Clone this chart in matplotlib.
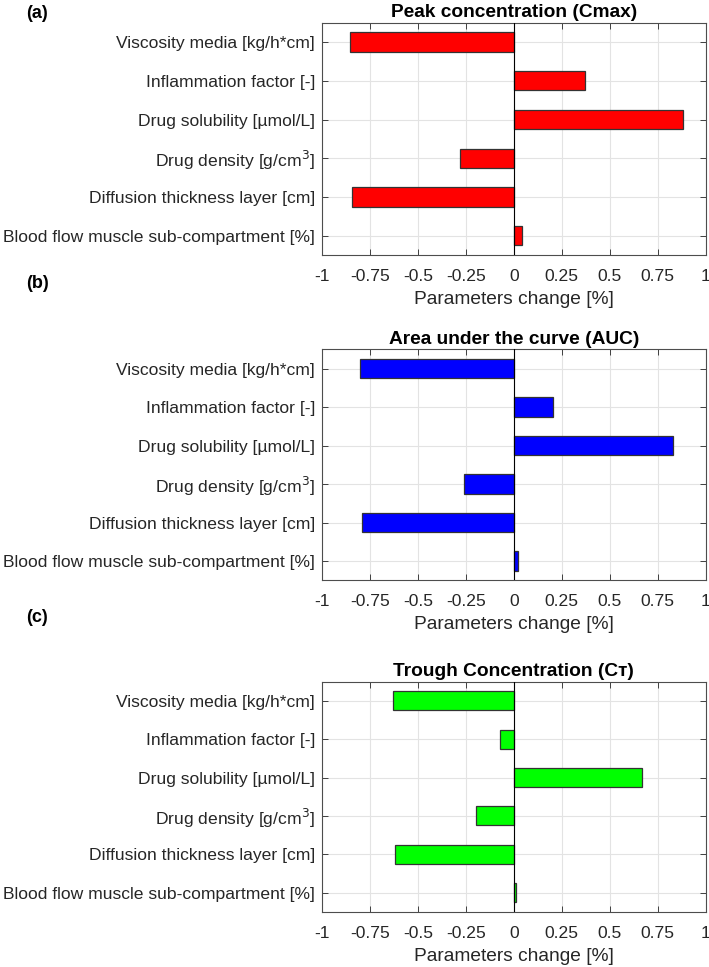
import matplotlib
matplotlib.use('Agg')
import matplotlib.pyplot as plt

plt.rcParams['font.family'] = ['Liberation Sans', 'DejaVu Sans']

# parameters, top to bottom as drawn
params = ['Viscosity media [kg/h*cm]',
          'Inflammation factor [-]',
          'Drug solubility [µmol/L]',
          'Drug density [g/cm$^3$]',
          'Diffusion thickness layer [cm]',
          'Blood flow muscle sub-compartment [%]']

cmax = [-0.852, 0.370, 0.882, -0.280, -0.842, 0.040]
auc = [-0.802, 0.202, 0.831, -0.261, -0.791, 0.021]
ctrough = [-0.631, -0.070, 0.670, -0.200, -0.621, 0.010]

titles = ['Peak concentration (Cmax)', 'Area under the curve (AUC)',
          'Trough Concentration (Cт)']
letters = ['(a)', '(b)', '(c)']
colors = ['#ff0000', '#0000ff', '#00ff00']
xticks = [-1, -0.75, -0.5, -0.25, 0, 0.25, 0.5, 0.75, 1]
xticklabels = ['-1', '-0.75', '-0.5', '-0.25', '0', '0.25', '0.5', '0.75', '1']

fig = plt.figure(figsize=(7.09, 9.67), dpi=100)

# axes boxes [left, bottom, width, height] in figure fraction
boxes = [[0.4542, 0.7363, 0.5412, 0.2402],
         [0.4542, 0.3999, 0.5412, 0.2389],
         [0.4542, 0.0572, 0.5412, 0.2378]]
letter_y = [1 - 13 / 967, 1 - 283 / 967, 1 - 617 / 967]

txtc = '#262626'
for data, ttl, let, col, box, ly in zip([cmax, auc, ctrough], titles, letters,
                                        colors, boxes, letter_y):
    ax = fig.add_axes(box)
    ypos = list(range(len(params), 0, -1))
    ax.barh(ypos, data, height=0.5, color=col, edgecolor='#333333',
            linewidth=0.9, zorder=3)
    ax.axvline(0, color='black', linewidth=0.8, zorder=4)
    ax.set_xlim(-1, 1)
    ax.set_ylim(0.5, len(params) + 0.5)
    ax.set_yticks(ypos)
    ax.set_yticklabels(params)
    ax.set_xticks(xticks)
    ax.set_xticklabels(xticklabels)
    ax.tick_params(axis='both', direction='in', length=4, width=0.6,
                   labelsize=12.6, colors=txtc, pad=5, top=True, right=True)
    ax.tick_params(axis='x', pad=10)
    ax.grid(True, color='#e3e3e3', linewidth=0.8, zorder=0)
    for s in ax.spines.values():
        s.set_color('#4d4d4d')
        s.set_linewidth(0.8)
    ax.set_xlabel('Parameters change [%]', fontsize=13.8, color=txtc, labelpad=5)
    ax.set_title(ttl, fontsize=13.8, fontweight='bold', pad=4)
    fig.text(26 / 709, ly, let, fontsize=13, fontweight='bold', va='center')

plt.savefig('out.png', dpi=100)
